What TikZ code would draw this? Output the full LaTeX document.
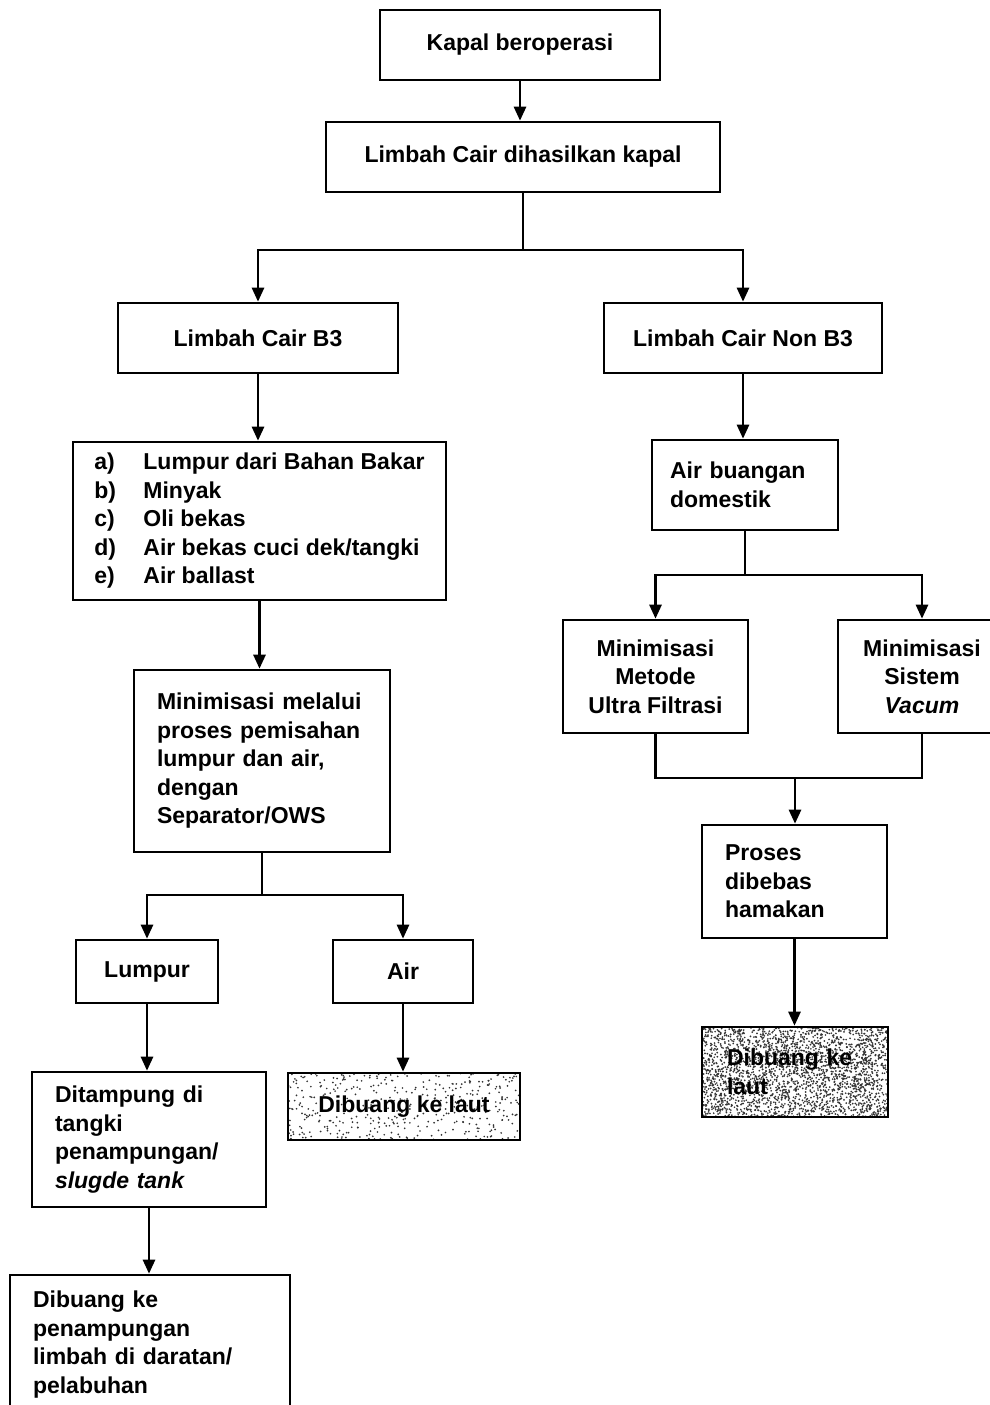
\documentclass[tikz,border=0pt]{standalone}
\usepackage{fontspec}
\setmainfont{Liberation Sans}
\usetikzlibrary{arrows.meta}
\begin{document}
\begin{tikzpicture}[x=1pt,y=-1pt,
  box/.style={draw, line width=2.6pt, rectangle, inner sep=0pt,
    font=\fontsize{23}{28.5}\selectfont\bfseries},
  lbox/.style={box, align=left},
  cbox/.style={box, align=center},
  link/.style={line width=2.6pt},
  arr/.style={link, -{Triangle[length=14pt,width=12pt]}},
  % random speckle filling a box: width, height, number of dots, seed
  stipple/.style n args={4}{path picture={%
    \pgfmathsetseed{#4}%
    \foreach \i in {1,...,#3}{%
      \fill[black!80] (path picture bounding box.north west)
        ++({rnd*#1},{rnd*#2}) circle (0.95pt);}}},
]
\fill[white] (0,0) rectangle (989,1405);
\useasboundingbox (0,0) rectangle (989,1405);

% top of the flow
\node[cbox, minimum width=280pt, minimum height=70pt] (kapal) at (520,45) {Kapal beroperasi};
\node[cbox, minimum width=394pt, minimum height=70pt] (cair) at (523,157) {Limbah Cair dihasilkan kapal};
\node[cbox, minimum width=280pt, minimum height=70pt] (b3) at (258,338) {Limbah Cair B3};
\node[cbox, minimum width=278pt, minimum height=70pt] (nonb3) at (743,338) {Limbah Cair Non B3};

% hazardous branch
\node[box, align=left, minimum width=373pt, minimum height=158pt] (jenis) at (259.5,521)
  {\makebox[49pt][l]{a)}Lumpur dari Bahan Bakar\\
   \makebox[49pt][l]{b)}Minyak\\
   \makebox[49pt][l]{c)}Oli bekas\\
   \makebox[49pt][l]{d)}Air bekas cuci dek/tangki\\
   \makebox[49pt][l]{e)}Air ballast};
\node[lbox, minimum width=256pt, minimum height=182pt, inner xsep=23pt, text width=210pt] (ows) at (262,761)
  {Minimisasi melalui\\proses pemisahan\\lumpur dan air,\\dengan\\Separator/OWS};
\node[cbox, minimum width=142pt, minimum height=63pt] (lumpur) at (147,971.5) {Lumpur};
\node[cbox, minimum width=140pt, minimum height=63pt] (air) at (403,971.5) {Air};
\node[lbox, minimum width=234pt, minimum height=135pt, inner xsep=23pt, text width=188pt] (tampung) at (149,1139.5)
  {Ditampung di\\tangki\\penampungan/\\\textit{slugde tank}};
\node[cbox, stipple={232}{67}{420}{5}, minimum width=232pt, minimum height=67pt] (lautkiri) at (404,1106.5) {Dibuang ke laut};
\node[lbox, minimum width=280pt, minimum height=139pt, inner xsep=23pt, text width=234pt] (darat) at (150,1344.5)
  {Dibuang ke\\penampungan\\limbah di daratan/\\pelabuhan};

% non-hazardous branch
\node[lbox, minimum width=186pt, minimum height=90pt, inner xsep=18pt, text width=150pt] (domestik) at (745,485)
  {Air buangan\\domestik};
\node[cbox, minimum width=185pt, minimum height=113pt] (ultra) at (655.5,676.5) {Minimisasi\\Metode\\Ultra Filtrasi};
\node[cbox, minimum width=168pt, minimum height=113pt] (vacum) at (922,676.5) {Minimisasi\\Sistem\\\textit{Vacum}};
\node[lbox, minimum width=185pt, minimum height=113pt, inner xsep=23pt, text width=139pt] (hama) at (794.5,881.5)
  {Proses\\dibebas\\hamakan};
\node[lbox, stipple={186}{90}{2600}{11}, minimum width=186pt, minimum height=90pt, inner xsep=25pt, text width=136pt] (lautkanan) at (795,1072)
  {Dibuang ke\\laut};

% connectors
\draw[arr] (kapal.south) -- (kapal.south |- cair.north);
\coordinate (bagi) at (523,250);
\draw[link] (cair.south) -- (bagi);
\draw[arr] (bagi) -| (b3.north);
\draw[arr] (bagi) -| (nonb3.north);

\draw[arr] (b3.south) -- (b3.south |- jenis.north);
\draw[arr] (jenis.south) -- (jenis.south |- ows.north);
\coordinate (bagi3) at (262,895);
\draw[link] (ows.south) -- (bagi3);
\draw[arr] (bagi3) -| (lumpur.north);
\draw[arr] (bagi3) -| (air.north);
\draw[arr] (lumpur.south) -- (lumpur.south |- tampung.north);
\draw[arr] (air.south) -- (air.south |- lautkiri.north);
\draw[arr] (tampung.south) -- (tampung.south |- darat.north);

\draw[arr] (nonb3.south) -- (nonb3.south |- domestik.north);
\coordinate (bagi2) at (745,575);
\draw[link] (domestik.south) -- (bagi2);
\draw[arr] (bagi2) -| (ultra.north);
\draw[arr] (bagi2) -| (vacum.north);
\coordinate (gabung) at (795,778);
\draw[link] (ultra.south) |- (gabung);
\draw[link] (vacum.south) |- (gabung);
\draw[arr] (gabung) -- (gabung |- hama.north);
\draw[arr] (hama.south) -- (hama.south |- lautkanan.north);
\end{tikzpicture}
\end{document}
